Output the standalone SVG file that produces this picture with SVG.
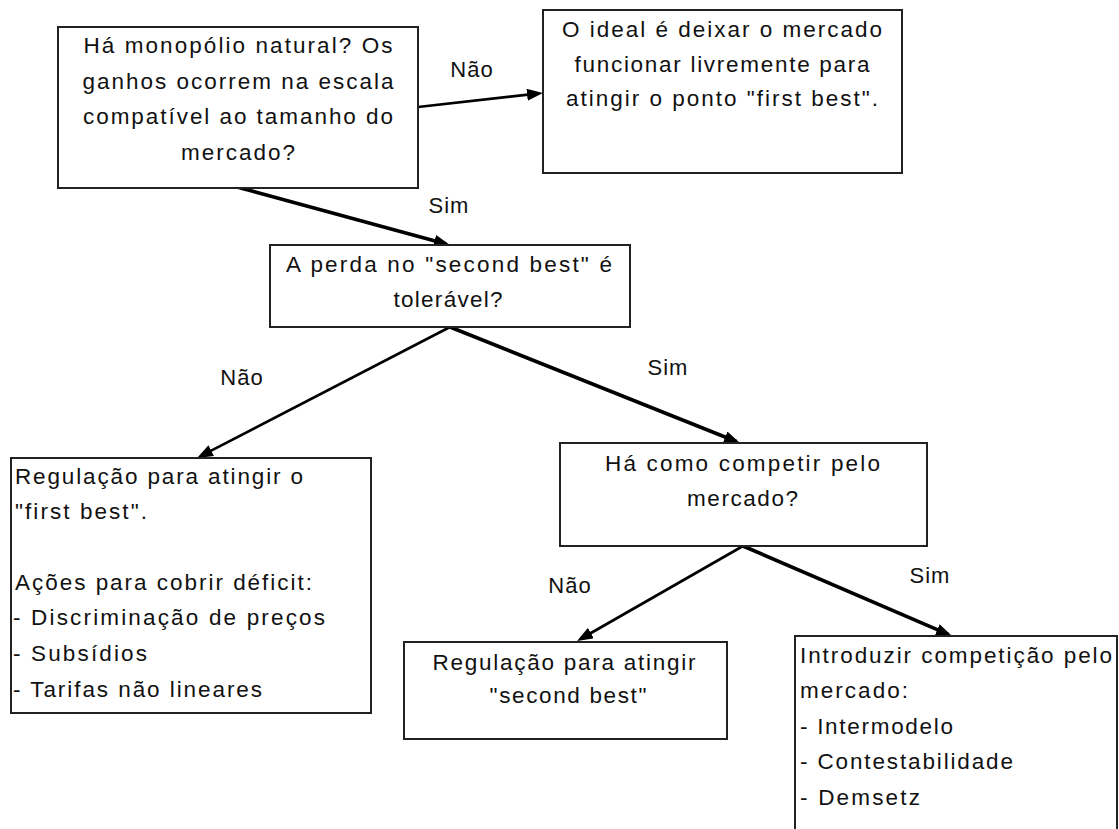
<svg xmlns="http://www.w3.org/2000/svg" width="1119" height="829" viewBox="0 0 1119 829">
<style>
.box{fill:#fff;stroke:#222;stroke-width:2}
.t{font-family:"Liberation Sans",Arial,sans-serif;font-size:22.5px;fill:#111}
.c{text-anchor:middle}
.lbl{font-family:"Liberation Sans",Arial,sans-serif;font-size:22px;fill:#111;text-anchor:middle;letter-spacing:1px}
.no{stroke:#000;stroke-width:2.6;fill:none;marker-end:url(#ah)}
.yes{stroke:#000;stroke-width:3.6;fill:none;marker-end:url(#ah)}
</style>
<defs>
<marker id="ah" markerUnits="userSpaceOnUse" markerWidth="16" markerHeight="12" viewBox="0 0 16 12" refX="12" refY="6" orient="auto">
<path d="M0,0 L16,6 L0,12 z" fill="#000"/>
</marker>
</defs>
<rect width="1119" height="829" fill="#fff"/>

<g id="connectors">
<line class="no" x1="418" y1="107" x2="539" y2="93.4"/>
<line class="yes" x1="237" y1="187" x2="446.1" y2="243.9"/>
<line class="no" x1="450" y1="327" x2="200.6" y2="456.2"/>
<line class="yes" x1="450" y1="327" x2="736.3" y2="441.5"/>
<line class="no" x1="743" y1="546" x2="580.5" y2="639"/>
<line class="yes" x1="743" y1="546" x2="948.3" y2="634.4"/>
<text class="lbl" x="472" y="77">Não</text>
<text class="lbl" x="449" y="213">Sim</text>
<text class="lbl" x="242" y="385">Não</text>
<text class="lbl" x="668" y="375">Sim</text>
<text class="lbl" x="570" y="593">Não</text>
<text class="lbl" x="930" y="583">Sim</text>
</g>

<g id="n1">
<rect class="box" x="58" y="27" width="360" height="161"/>
<text class="t c" x="238" y="53" textLength="309" lengthAdjust="spacing">Há monopólio natural? Os</text>
<text class="t c" x="238" y="89" textLength="311" lengthAdjust="spacing">ganhos ocorrem na escala</text>
<text class="t c" x="238" y="124" textLength="310" lengthAdjust="spacing">compatível ao tamanho do</text>
<text class="t c" x="238" y="160" textLength="114" lengthAdjust="spacing">mercado?</text>
</g>

<g id="n2">
<rect class="box" x="543" y="10" width="359" height="163"/>
<text class="t c" x="722" y="37" textLength="320" lengthAdjust="spacing">O ideal é deixar o mercado</text>
<text class="t c" x="722" y="72" textLength="295" lengthAdjust="spacing">funcionar livremente para</text>
<text class="t c" x="722" y="106" textLength="312" lengthAdjust="spacing">atingir o ponto "first best".</text>
</g>

<g id="n3">
<rect class="box" x="270" y="245" width="360" height="82"/>
<text class="t c" x="449" y="272" textLength="326" lengthAdjust="spacing">A perda no "second best" é</text>
<text class="t c" x="448" y="307" textLength="109" lengthAdjust="spacing">tolerável?</text>
</g>

<g id="n4">
<rect class="box" x="11" y="458" width="360" height="255"/>
<text class="t" x="15" y="484" textLength="288" lengthAdjust="spacing">Regulação para atingir o</text>
<text class="t" x="15" y="519" textLength="132" lengthAdjust="spacing">"first best".</text>
<text class="t" x="15" y="590" textLength="297" lengthAdjust="spacing">Ações para cobrir déficit:</text>
<text class="t" x="13" y="625" textLength="312" lengthAdjust="spacing">- Discriminação de preços</text>
<text class="t" x="13" y="661" textLength="134" lengthAdjust="spacing">- Subsídios</text>
<text class="t" x="13" y="697" textLength="249" lengthAdjust="spacing">- Tarifas não lineares</text>
</g>

<g id="n5">
<rect class="box" x="560" y="443" width="367" height="103"/>
<text class="t c" x="742.5" y="471" textLength="275" lengthAdjust="spacing">Há como competir pelo</text>
<text class="t c" x="742.5" y="506" textLength="111" lengthAdjust="spacing">mercado?</text>
</g>

<g id="n6">
<rect class="box" x="404" y="642" width="323" height="97"/>
<text class="t c" x="564" y="670" textLength="263" lengthAdjust="spacing">Regulação para atingir</text>
<text class="t c" x="568" y="703" textLength="157" lengthAdjust="spacing">"second best"</text>
</g>

<g id="n7">
<rect class="box" x="795" y="636" width="322" height="230"/>
<text class="t" x="800" y="663" textLength="312" lengthAdjust="spacing">Introduzir competição pelo</text>
<text class="t" x="800" y="698" textLength="108" lengthAdjust="spacing">mercado:</text>
<text class="t" x="800" y="734" textLength="153" lengthAdjust="spacing">- Intermodelo</text>
<text class="t" x="800" y="769" textLength="213" lengthAdjust="spacing">- Contestabilidade</text>
<text class="t" x="800" y="805" textLength="120" lengthAdjust="spacing">- Demsetz</text>
</g>
</svg>
